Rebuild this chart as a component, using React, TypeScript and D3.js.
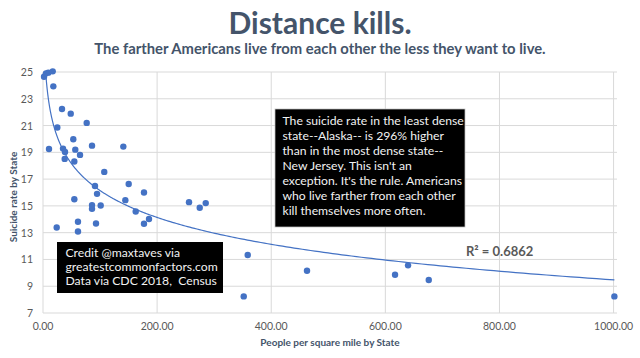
import { useEffect, useRef } from 'react';
import * as d3 from 'd3';

// People per square mile by state
const density = [
  1.8, 5.3, 9.3, 17.0, 18.1, 33.3, 48.6, 76.6, 25.1, 53.1,
  10.5, 35.1, 38.6, 56.6, 85.9, 140.8, 64.9, 38.0, 54.9, 107.4,
  91.1, 150.2, 177.0, 94.7, 54.9, 144.3, 85.9, 85.9, 101.1, 162.5,
  255.9, 274.7, 285.2, 185.8, 177.0, 92.9, 61.3, 24.0, 61.3, 358.8,
  351.8, 462.7, 617.0, 639.8, 676.1, 1001.4,
];

// Suicide rate by state (per 100k)
const suicideRate = [
  24.65, 24.9, 24.95, 25.05, 23.93, 22.24, 21.89, 21.2, 20.85, 19.98,
  19.25, 19.28, 19.03, 19.2, 19.5, 19.43, 18.81, 18.51, 18.31, 17.54,
  16.48, 16.63, 16.0, 15.9, 15.5, 15.43, 15.06, 14.78, 15.03, 14.58,
  15.28, 14.86, 15.21, 14.02, 13.67, 13.69, 13.81, 13.39, 13.09, 11.33,
  8.24, 10.16, 9.86, 10.56, 9.47, 8.24,
];

const xTicks = [0, 200, 400, 600, 800, 1000];
const yTicks = [7, 9, 11, 13, 15, 17, 19, 21, 23, 25];

const noteLines = [
  'The suicide rate in the least dense',
  'state--Alaska-- is 296% higher',
  'than in the most dense state--',
  'New Jersey. This isn\'t an',
  'exception. It\'s the rule. Americans',
  'who live farther from each other',
  'kill themselves more often.',
];

const creditLines = [
  'Credit @maxtaves via',
  'greatestcommonfactors.com',
  'Data via CDC 2018,  Census',
];

const FONT = 'Lato, "Open Sans", sans-serif';
const SLATE = '#44546A';
const GREY = '#595959';
const BLUE = '#4472C4';

export default function App() {
  const svgRef = useRef<SVGSVGElement>(null);
  const width = 640;
  const height = 358;

  useEffect(() => {
    if (!svgRef.current) return;
    const svg = d3.select(svgRef.current);
    svg.selectAll('*').remove();

    const left = 43, right = 617, top = 72, bottom = 313;

    const x = d3.scaleLinear().domain([0, 1006]).range([left, right]);
    const y = d3.scaleLinear().domain([7, 25]).range([bottom, top]);

    // Title + subtitle
    svg.append('text')
      .attr('x', 320).attr('y', 34)
      .attr('text-anchor', 'middle')
      .attr('font-family', FONT).attr('font-weight', 'bold').attr('font-size', 30)
      .attr('fill', SLATE)
      .text('Distance kills.');

    svg.append('text')
      .attr('x', 320).attr('y', 54)
      .attr('text-anchor', 'middle')
      .attr('font-family', FONT).attr('font-weight', 'bold').attr('font-size', 14.8)
      .attr('fill', SLATE)
      .text('The farther Americans live from each other the less they want to live.');

    // Gridlines + tick labels
    const g = svg.append('g');
    yTicks.forEach(t => {
      g.append('line')
        .attr('x1', left).attr('x2', right).attr('y1', y(t)).attr('y2', y(t))
        .attr('stroke', '#D9D9D9').attr('stroke-width', 1);
      g.append('text')
        .attr('x', 33).attr('y', y(t) + 4)
        .attr('text-anchor', 'end')
        .attr('font-family', FONT).attr('font-size', 10.5)
        .attr('fill', GREY)
        .text(t);
    });
    xTicks.forEach(t => {
      g.append('line')
        .attr('x1', x(t)).attr('x2', x(t)).attr('y1', top).attr('y2', bottom)
        .attr('stroke', '#D9D9D9').attr('stroke-width', 1);
      g.append('text')
        .attr('x', x(t)).attr('y', 330)
        .attr('text-anchor', 'middle')
        .attr('font-family', FONT).attr('font-size', 10.5)
        .attr('fill', GREY)
        .text(t.toFixed(2));
    });

    // Axis titles
    svg.append('text')
      .attr('x', (left + right) / 2).attr('y', 346)
      .attr('text-anchor', 'middle')
      .attr('font-family', FONT).attr('font-weight', 'bold').attr('font-size', 10)
      .attr('fill', SLATE)
      .text('People per square mile by State');

    svg.append('text')
      .attr('transform', 'translate(17,197) rotate(-90)')
      .attr('text-anchor', 'middle')
      .attr('font-family', FONT).attr('font-weight', 'bold').attr('font-size', 10)
      .attr('fill', SLATE)
      .text('Suicide rate by State');

    // Logarithmic trendline (least squares on ln x)
    const lx = density.map(d => Math.log(d));
    const mx = d3.mean(lx)!;
    const my = d3.mean(suicideRate)!;
    const a = d3.sum(lx, (v, i) => (v - mx) * (suicideRate[i] - my)) / d3.sum(lx, v => (v - mx) ** 2);
    const b = my - a * mx;

    svg.append('defs').append('clipPath').attr('id', 'plot-clip')
      .append('rect').attr('x', left).attr('y', top).attr('width', right - left).attr('height', bottom - top);

    const [xmin, xmax] = d3.extent(density) as [number, number];
    const samples = d3.range(0, 401).map(i => xmin * Math.pow(xmax / xmin, i / 400));
    const line = d3.line<number>().x(d => x(d)).y(d => y(a * Math.log(d) + b));
    svg.append('path')
      .datum(samples)
      .attr('d', line)
      .attr('fill', 'none')
      .attr('stroke', BLUE).attr('stroke-width', 1.2)
      .attr('clip-path', 'url(#plot-clip)');

    // Points
    svg.append('g').selectAll('circle')
      .data(density)
      .join('circle')
      .attr('cx', d => x(d))
      .attr('cy', (_, i) => y(suicideRate[i]))
      .attr('r', 3.2)
      .attr('fill', BLUE);

    // R² label
    svg.append('text')
      .attr('x', 466).attr('y', 256)
      .attr('font-family', FONT).attr('font-weight', 'bold').attr('font-size', 13)
      .attr('fill', GREY)
      .text('R² = 0.6862');

    // Annotation box
    svg.append('rect')
      .attr('x', 275).attr('y', 109).attr('width', 190).attr('height', 118)
      .attr('fill', '#000').attr('stroke', '#BFBFBF').attr('stroke-width', 0.75);
    noteLines.forEach((l, i) => {
      svg.append('text')
        .attr('x', 282.5).attr('y', 125 + i * 15.05)
        .attr('font-family', FONT).attr('font-size', 12.2)
        .attr('fill', '#F2F2F2')
        .text(l);
    });

    // Credit box
    svg.append('rect')
      .attr('x', 57).attr('y', 242).attr('width', 166).attr('height', 51)
      .attr('fill', '#000');
    creditLines.forEach((l, i) => {
      svg.append('text')
        .attr('x', 65.5).attr('y', 257 + i * 14)
        .attr('font-family', FONT).attr('font-size', 12.2)
        .attr('fill', '#F2F2F2')
        .style('white-space', 'pre')
        .text(l);
    });
  }, []);

  return (
    <svg
      ref={svgRef}
      width={width}
      height={height}
      style={{ position: 'absolute', left: 0, top: 0, background: '#fff' }}
    />
  );
}
